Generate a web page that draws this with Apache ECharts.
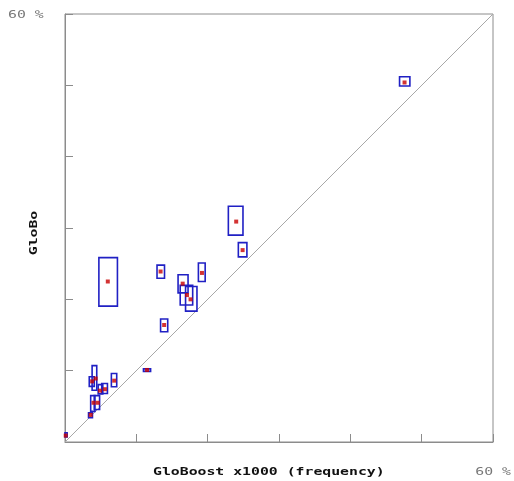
<!DOCTYPE html>
<html>
<head>
<meta charset="utf-8">
<script src="https://cdn.jsdelivr.net/npm/echarts@6/dist/echarts.min.js"></script>
<style>html,body{margin:0;padding:0;background:#fff;}#c{width:514px;height:481px;}</style>
</head>
<body>
<div id="c"></div>
<script>
// GloBoost x1000 (frequency) values, %
const xVal  = [0.1, 3.6, 4.0, 4.6, 3.8, 4.3, 4.9, 5.6, 6.9, 11.5, 13.9, 6.0, 13.4, 16.5, 17.1, 17.6, 19.2, 24.0, 24.9, 47.6];
// GloBo values, %
const yVal  = [0.9, 3.8, 5.5, 5.5, 8.5, 8.9, 7.2, 7.4, 8.6, 10.1, 16.4, 22.5, 23.9, 22.2, 20.6, 20.0, 23.7, 30.9, 26.9, 50.4];
// uncertainty box extents
const xLow  = [0.0, 3.3, 3.6, 4.1, 3.4, 3.8, 4.65, 5.15, 6.5, 11.0, 13.4, 4.75, 12.9, 15.85, 16.15, 16.9, 18.7, 22.9, 24.3, 46.9];
const xHigh = [0.3, 3.85, 4.2, 4.85, 4.1, 4.45, 5.3, 5.95, 7.25, 12.0, 14.4, 7.35, 13.95, 17.25, 17.9, 18.5, 19.65, 24.95, 25.5, 48.35];
const yLow  = [0.7, 3.4, 4.3, 4.55, 7.8, 7.25, 6.75, 6.8, 7.75, 9.9, 15.45, 19.05, 22.95, 20.9, 19.2, 18.35, 22.5, 29.0, 25.95, 49.9];
const yHigh = [1.3, 4.1, 6.5, 6.5, 9.15, 10.7, 8.05, 8.2, 9.6, 10.25, 17.25, 25.85, 24.8, 23.45, 21.95, 21.8, 25.1, 33.05, 27.95, 51.2];
const diagonal = [[0, 0], [60, 60]];
const axisMin = 0, axisMax = 60, axisStep = 10;
const maxLabel = '60 %';
const xTitle = 'GloBoost x1000 (frequency)';
const yTitle = 'GloBo';

const boxes = xLow.map((v, i) => [v, xHigh[i], yLow[i], yHigh[i]]);
const points = xVal.map((v, i) => [v, yVal[i]]);

const chart = echarts.init(document.getElementById('c'), null, {renderer: 'canvas'});
const axisColor = '#8c8c8c';
const mono = 'DejaVu Sans Mono';
const stretch = 1.48;

chart.setOption({
  animation: false,
  backgroundColor: '#fff',
  grid: {left: 65, right: 21, top: 14, bottom: 39, containLabel: false, outerBoundsMode: 'none',
         show: true, borderColor: axisColor, borderWidth: 1},
  xAxis: {
    type: 'value', min: axisMin, max: axisMax, interval: axisStep,
    axisLine: {lineStyle: {color: axisColor}},
    axisTick: {inside: true, length: 8, lineStyle: {color: axisColor}},
    splitLine: {show: false},
    axisLabel: {show: false}
  },
  yAxis: {
    type: 'value', min: axisMin, max: axisMax, interval: axisStep,
    axisLine: {lineStyle: {color: axisColor}},
    axisTick: {inside: true, length: 8, lineStyle: {color: axisColor}},
    splitLine: {show: false},
    axisLabel: {show: false}
  },
  graphic: [
    {type: 'text', x: 8, y: 15, scaleX: stretch,
     style: {text: maxLabel, font: '10px "' + mono + '"', fill: '#777', textAlign: 'left', textVerticalAlign: 'middle'}},
    {type: 'text', x: 511, y: 472, scaleX: stretch,
     style: {text: maxLabel, font: '10px "' + mono + '"', fill: '#777', textAlign: 'right', textVerticalAlign: 'middle'}},
    {type: 'text', x: 153, y: 472, scaleX: stretch,
     style: {text: xTitle, font: 'bold 10px "' + mono + '"', fill: '#111', textAlign: 'left', textVerticalAlign: 'middle'}},
    {type: 'text', x: 34.5, y: 233, scaleX: stretch, rotation: Math.PI / 2,
     style: {text: yTitle, font: 'bold 10px "' + mono + '"', fill: '#111', textAlign: 'center', textVerticalAlign: 'middle'}}
  ],
  series: [
    {
      type: 'line', data: diagonal, symbol: 'none', silent: true,
      lineStyle: {color: '#a8a8a8', width: 1}, z: 1
    },
    {
      type: 'custom', data: boxes, z: 2,
      encode: {x: [0, 1], y: [2, 3]},
      renderItem: function (params, api) {
        const p1 = api.coord([api.value(0), api.value(3)]);
        const p2 = api.coord([api.value(1), api.value(2)]);
        return {
          type: 'rect',
          shape: {x: p1[0], y: p1[1], width: p2[0] - p1[0], height: p2[1] - p1[1]},
          style: {fill: 'none', stroke: '#2020c4', lineWidth: 1.6}
        };
      }
    },
    {
      type: 'scatter', data: points, symbol: 'rect', symbolSize: 4, z: 3,
      itemStyle: {color: '#c80000'}
    }
  ]
});
</script>
</body>
</html>
